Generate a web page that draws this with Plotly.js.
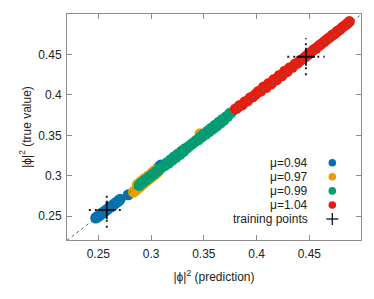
<!DOCTYPE html>
<html>
<head>
<meta charset="utf-8">
<script src="https://cdn.plot.ly/plotly-3.0.1.min.js"></script>
<style>html,body{margin:0;padding:0;background:#fff;}#chart{width:374px;height:299px;}</style>
</head>
<body>
<div id="chart"></div>
<script>
// ---- data ----
const seriesNames = ["μ=0.94", "μ=0.97", "μ=0.99", "μ=1.04"];
const seriesColors = ["#0072b2", "#e69f00", "#009e73", "#e51e10"];

const blue_x = [0.2475,0.2485,0.2495,0.2505,0.2515,0.2528,0.2540,0.2552,0.2563,0.2575,0.2588,0.2600,0.2612,0.2625,0.2637,0.2650,0.2662,0.2675,0.2688,0.2698,0.2707,0.2784,0.3065,0.3080,0.3092];
const blue_y = [0.2478,0.2492,0.2490,0.2508,0.2512,0.2533,0.2537,0.2556,0.2560,0.2578,0.2585,0.2604,0.2609,0.2628,0.2633,0.2653,0.2658,0.2677,0.2684,0.2700,0.2710,0.2766,0.3095,0.3115,0.3132];

const orange_x = [0.2833,0.2845,0.2858,0.2870,0.2882,0.2895,0.2907,0.2920,0.2932,0.2945,0.2957,0.2970,0.2982,0.2995,0.3007,0.3020,0.3032,0.3045,0.3058,0.3071,0.2870,0.2905,0.2940,0.2975,0.3010,0.3040,0.3465];
const orange_y = [0.2798,0.2818,0.2822,0.2846,0.2850,0.2870,0.2882,0.2897,0.2908,0.2925,0.2933,0.2952,0.2960,0.2978,0.2985,0.3004,0.3010,0.3030,0.3040,0.3062,0.2895,0.2930,0.2968,0.3002,0.3040,0.3070,0.3520];

const green_x = [0.2887,0.2905,0.2922,0.2940,0.2958,0.2975,0.2993,0.3010,0.3028,0.3045,0.3063,0.3080,0.3098,0.3115,0.3133,0.3150,0.3168,0.3185,0.3203,0.3220,0.3238,0.3255,0.3273,0.3290,0.3308,0.3325,0.3343,0.3360,0.3378,0.3395,0.3413,0.3430,0.3448,0.3465,0.3483,0.3500,0.3518,0.3535,0.3553,0.3570,0.3588,0.3605,0.3623,0.3640,0.3658,0.3675,0.3693,0.3710,0.3728,0.3745,0.3760];
const green_y = [0.2881,0.2908,0.2918,0.2945,0.2953,0.2980,0.2990,0.3015,0.3025,0.3050,0.3062,0.3085,0.3100,0.3122,0.3128,0.3162,0.3158,0.3198,0.3195,0.3235,0.3228,0.3270,0.3262,0.3305,0.3300,0.3338,0.3345,0.3365,0.3382,0.3400,0.3418,0.3438,0.3445,0.3478,0.3480,0.3515,0.3512,0.3552,0.3545,0.3588,0.3580,0.3625,0.3615,0.3660,0.3650,0.3695,0.3688,0.3728,0.3735,0.3770,0.3780];

const red_x = [0.3800,0.3815,0.3840,0.3865,0.3890,0.3915,0.3940,0.3965,0.3990,0.4015,0.4040,0.4065,0.4090,0.4115,0.4140,0.4165,0.4190,0.4215,0.4240,0.4265,0.4290,0.4315,0.4340,0.4365,0.4390,0.4415,0.4440,0.4465,0.4490,0.4515,0.4540,0.4565,0.4590,0.4615,0.4640,0.4665,0.4690,0.4715,0.4740,0.4765,0.4790,0.4815,0.4840,0.4860,0.4880];
const red_y = [0.3825,0.3835,0.3868,0.3875,0.3915,0.3925,0.3965,0.3975,0.4005,0.4040,0.4045,0.4095,0.4090,0.4140,0.4135,0.4190,0.4185,0.4240,0.4235,0.4290,0.4285,0.4335,0.4340,0.4380,0.4392,0.4425,0.4445,0.4472,0.4500,0.4525,0.4555,0.4575,0.4605,0.4630,0.4655,0.4682,0.4705,0.4735,0.4752,0.4785,0.4805,0.4835,0.4860,0.4880,0.4905];

const train_x = [0.2580, 0.4468];
const train_y = [0.2578, 0.4470];
const train_xerr = [0.0170, 0.0177];
const train_yerr = [0.0220, 0.0227];

const diag = [0.2203, 0.4990];
const x_range = [0.2203, 0.4990];
const y_range = [0.2207, 0.4998];
const tick_vals = [0.25, 0.3, 0.35, 0.4, 0.45];
const tick_labels = ["0.25", "0.3", "0.35", "0.4", "0.45"];

// ---- traces ----
const FONT = "Liberation Sans, Arial, sans-serif";
const xs = [blue_x, orange_x, green_x, red_x];
const ys = [blue_y, orange_y, green_y, red_y];
const traces = [];
for (let i = 0; i < 4; i++) {
  traces.push({
    type: "scatter", mode: "markers", name: seriesNames[i],
    x: xs[i], y: ys[i],
    marker: {color: seriesColors[i], size: 11, line: {width: 0}},
    showlegend: false, hoverinfo: "x+y"
  });
}
traces.push({
  type: "scatter", mode: "lines", x: diag, y: diag, showlegend: false,
  line: {color: "#666", width: 1, dash: "3px,3px"}, hoverinfo: "skip"
});
// dotted error bars built from the training arrays
const ex = [], ey = [];
for (let i = 0; i < train_x.length; i++) {
  ex.push(train_x[i] - train_xerr[i], train_x[i] + train_xerr[i], null);
  ey.push(train_y[i], train_y[i], null);
  ex.push(train_x[i], train_x[i], null);
  ey.push(train_y[i] - train_yerr[i], train_y[i] + train_yerr[i], null);
}
traces.push({
  type: "scatter", mode: "lines", x: ex, y: ey, showlegend: false,
  line: {color: "#222", width: 2, dash: "2px,4px"}, hoverinfo: "skip"
});
traces.push({
  type: "scatter", mode: "markers", name: "training points",
  x: train_x, y: train_y, showlegend: false,
  marker: {symbol: "cross-thin", size: 13, color: "#111", line: {color: "#111", width: 1.8}}
});

// ---- legend drawn as layout keys ----
const legendLabels = seriesNames.concat(["training points"]);
const rowY = [0.342, 0.2796, 0.2173, 0.1549, 0.0929];
const keyX = 0.9024, textX = 0.8265;
const annotations = legendLabels.map((t, i) => ({
  text: t, xref: "paper", yref: "paper", x: textX, y: rowY[i],
  xanchor: "right", yanchor: "middle", showarrow: false,
  font: {family: FONT, size: 12, color: "#222"}
}));
const shapes = [];
for (let i = 0; i < 4; i++) {
  shapes.push({type: "circle", xref: "paper", yref: "paper", xsizemode: "pixel", ysizemode: "pixel",
    xanchor: keyX, yanchor: rowY[i], x0: -3.8, x1: 3.8, y0: -3.8, y1: 3.8,
    fillcolor: seriesColors[i], line: {width: 0}});
}
shapes.push({type: "line", xref: "paper", yref: "paper", xsizemode: "pixel", ysizemode: "pixel",
  xanchor: keyX, yanchor: rowY[4], x0: -6, x1: 6, y0: 0, y1: 0, line: {color: "#111", width: 1.3}});
shapes.push({type: "line", xref: "paper", yref: "paper", xsizemode: "pixel", ysizemode: "pixel",
  xanchor: keyX, yanchor: rowY[4], x0: 0, x1: 0, y0: -6, y1: 6, line: {color: "#111", width: 1.3}});

const axisCommon = {
  showgrid: false, zeroline: false, showline: true, mirror: "ticks",
  linecolor: "#8c8c8c", linewidth: 1, ticks: "inside", ticklen: 5, tickcolor: "#8c8c8c",
  tickmode: "array", tickvals: tick_vals, ticktext: tick_labels,
  tickfont: {family: FONT, size: 12, color: "#222"}
};
const layout = {
  width: 374, height: 299,
  margin: {l: 67, r: 13, t: 14, b: 59},
  paper_bgcolor: "#fff", plot_bgcolor: "#fff",
  font: {family: FONT, size: 12, color: "#222"},
  showlegend: false,
  xaxis: Object.assign({}, axisCommon, {range: x_range, ticklabelstandoff: 3,
    title: {text: "|ϕ|<sup>2</sup> (prediction)", font: {family: FONT, size: 12, color: "#222"}, standoff: 12}}),
  yaxis: Object.assign({}, axisCommon, {range: y_range, ticklabelstandoff: 2,
    title: {text: "|ϕ|<sup>2</sup> (true value)", font: {family: FONT, size: 12, color: "#222"}, standoff: 4}}),
  annotations: annotations,
  shapes: shapes
};
Plotly.newPlot("chart", traces, layout, {staticPlot: true, displayModeBar: false});
</script>
</body>
</html>
